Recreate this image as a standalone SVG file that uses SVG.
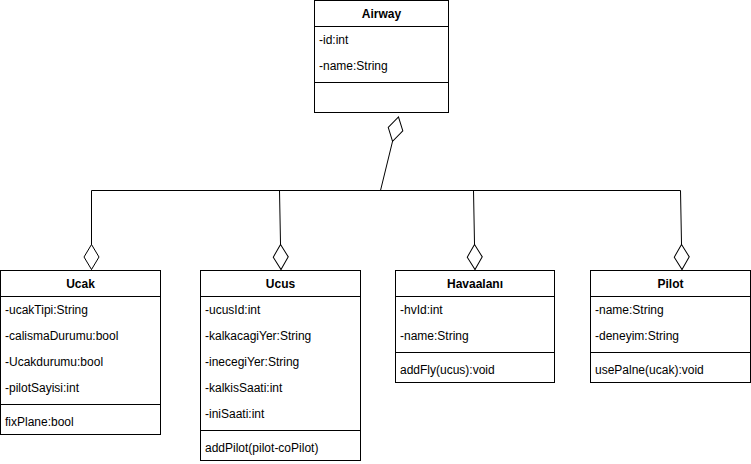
<svg xmlns="http://www.w3.org/2000/svg" width="751" height="464" viewBox="0 0 751 464">
  <style>
    .box { fill: #ffffff; stroke: #000000; stroke-width: 1; }
    .sep { stroke: #000000; stroke-width: 1; fill: none; }
    .title { font-family: "Liberation Sans", Arial, sans-serif; font-size: 12px; font-weight: bold; text-anchor: middle; fill: #000000; }
    .item { font-family: "Liberation Sans", Arial, sans-serif; font-size: 12px; fill: #000000; }
    .edge { stroke: #000000; stroke-width: 1; fill: none; }
  </style>
  <defs>
    <!-- hollow thin diamond for aggregation ends -->
    <marker id="aggr" markerUnits="userSpaceOnUse" markerWidth="28" markerHeight="18" viewBox="-1 -9 28 18" refX="25" refY="0" orient="auto">
      <path d="M 0 0 L 12.5 -7.5 L 25 0 L 12.5 7.5 Z" fill="#ffffff" stroke="#000000" stroke-width="1"/>
    </marker>
  </defs>

  <rect width="751" height="464" fill="#ffffff"/>

  <!-- connectors -->
  <g id="connectors">
    <path class="edge" d="M 91.5 190.5 L 680.5 190.5"/>
    <path class="edge" d="M 380.5 190.5 L 398.5 117" marker-end="url(#aggr)"/>
    <path class="edge" d="M 91.5 190.5 L 91.5 269.5" marker-end="url(#aggr)"/>
    <path class="edge" d="M 279.5 190.5 L 281 269.5" marker-end="url(#aggr)"/>
    <path class="edge" d="M 473.5 190.5 L 475 269.5" marker-end="url(#aggr)"/>
    <path class="edge" d="M 680.5 190.5 L 682 269.5" marker-end="url(#aggr)"/>
  </g>

  <!-- Airway -->
  <g id="airway">
    <rect class="box" x="314.5" y="0.5" width="134" height="112"/>
    <line class="sep" x1="314.5" y1="26.5" x2="448.5" y2="26.5"/>
    <line class="sep" x1="314.5" y1="82.5" x2="448.5" y2="82.5"/>
    <text class="title" x="381.5" y="17.5">Airway</text>
    <text class="item" x="319" y="43.5">-id:int</text>
    <text class="item" x="319" y="69.5">-name:String</text>
  </g>

  <!-- Ucak -->
  <g id="ucak">
    <rect class="box" x="0.5" y="270.5" width="160" height="164"/>
    <line class="sep" x1="0.5" y1="296.5" x2="160.5" y2="296.5"/>
    <line class="sep" x1="0.5" y1="404.5" x2="160.5" y2="404.5"/>
    <text class="title" x="80.5" y="287.5">Ucak</text>
    <text class="item" x="5" y="313.5">-ucakTipi:String</text>
    <text class="item" x="5" y="339.5">-calismaDurumu:bool</text>
    <text class="item" x="5" y="365.5">-Ucakdurumu:bool</text>
    <text class="item" x="5" y="391.5">-pilotSayisi:int</text>
    <text class="item" x="5" y="425.5">fixPlane:bool</text>
  </g>

  <!-- Ucus -->
  <g id="ucus">
    <rect class="box" x="200.5" y="270.5" width="160" height="190"/>
    <line class="sep" x1="200.5" y1="296.5" x2="360.5" y2="296.5"/>
    <line class="sep" x1="200.5" y1="430.5" x2="360.5" y2="430.5"/>
    <text class="title" x="280.5" y="287.5">Ucus</text>
    <text class="item" x="205" y="313.5">-ucusId:int</text>
    <text class="item" x="205" y="339.5">-kalkacagiYer:String</text>
    <text class="item" x="205" y="365.5">-inecegiYer:String</text>
    <text class="item" x="205" y="391.5">-kalkisSaati:int</text>
    <text class="item" x="205" y="417.5">-iniSaati:int</text>
    <text class="item" x="205" y="451.5">addPilot(pilot-coPilot)</text>
  </g>

  <!-- Havaalanı -->
  <g id="havaalani">
    <rect class="box" x="395.5" y="270.5" width="159" height="112"/>
    <line class="sep" x1="395.5" y1="296.5" x2="554.5" y2="296.5"/>
    <line class="sep" x1="395.5" y1="352.5" x2="554.5" y2="352.5"/>
    <text class="title" x="475" y="287.5">Havaalanı</text>
    <text class="item" x="400" y="313.5">-hvId:int</text>
    <text class="item" x="400" y="339.5">-name:String</text>
    <text class="item" x="400" y="373.5">addFly(ucus):void</text>
  </g>

  <!-- Pilot -->
  <g id="pilot">
    <rect class="box" x="590.5" y="270.5" width="160" height="112"/>
    <line class="sep" x1="590.5" y1="296.5" x2="750.5" y2="296.5"/>
    <line class="sep" x1="590.5" y1="352.5" x2="750.5" y2="352.5"/>
    <text class="title" x="670.5" y="287.5">Pilot</text>
    <text class="item" x="595" y="313.5">-name:String</text>
    <text class="item" x="595" y="339.5">-deneyim:String</text>
    <text class="item" x="595" y="373.5">usePalne(ucak):void</text>
  </g>
</svg>
